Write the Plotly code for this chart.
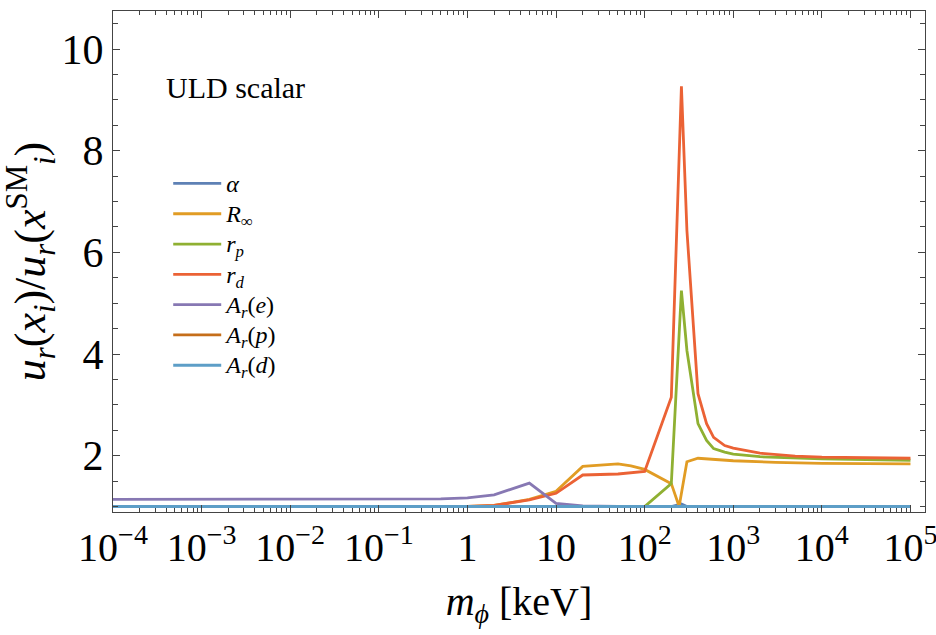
import plotly.graph_objects as go

# ---- data ----
m_alpha = [1e-4, 200, 260, 300, 1e5]
v_alpha = [1.0, 1.0, 1.05, 1.0, 1.0]

m_Rinf = [1e-4, 1, 2, 5, 10, 20, 50, 70, 100, 200, 245, 300, 400, 1e3, 3e3, 1e4, 1e5]
v_Rinf = [1.0, 1.0, 1.02, 1.14, 1.30, 1.79, 1.84, 1.80, 1.73, 1.45, 1.0, 1.88, 1.95, 1.90, 1.87, 1.85, 1.84]

m_rp = [1e-4, 100, 200, 260, 300, 400, 500, 600, 800, 1e3, 2e3, 5e3, 1e4, 1e5]
v_rp = [1.0, 1.0, 1.45, 5.25, 4.07, 2.63, 2.30, 2.14, 2.07, 2.03, 1.98, 1.95, 1.94, 1.91]

m_rd = [1e-4, 1, 2, 5, 10, 20, 50, 100, 200, 260, 300, 400, 500, 600, 800, 1e3, 2e3, 5e3, 1e4, 1e5]
v_rd = [1.0, 1.0, 1.02, 1.13, 1.26, 1.62, 1.64, 1.69, 3.15, 9.27, 6.43, 3.22, 2.63, 2.36, 2.20, 2.15, 2.05, 1.99, 1.97, 1.95]

m_Ae = [1e-4, 0.1, 0.5, 1, 2, 5, 10, 20, 50, 1e5]
v_Ae = [1.14, 1.14, 1.15, 1.17, 1.23, 1.46, 1.06, 1.01, 1.0, 1.0]

m_Ap = [1e-4, 1e5]
v_Ap = [1.0, 1.0]

m_Ad = [1e-4, 1e5]
v_Ad = [1.0, 1.0]

series_names = ["<i>α</i>", "<i>R</i><sub>∞</sub>", "<i>r<sub>p</sub></i>", "<i>r<sub>d</sub></i>",
                "<i>A<sub>r</sub></i>(<i>e</i>)", "<i>A<sub>r</sub></i>(<i>p</i>)", "<i>A<sub>r</sub></i>(<i>d</i>)"]
series_colors = ["#5E81B5", "#E19C24", "#8FB032", "#EB6235", "#8778B3", "#C56E1A", "#5D9EC7"]
series_x = [m_alpha, m_Rinf, m_rp, m_rd, m_Ae, m_Ap, m_Ad]
series_y = [v_alpha, v_Rinf, v_rp, v_rd, v_Ae, v_Ap, v_Ad]

x_tickvals = [1e-4, 1e-3, 1e-2, 1e-1, 1, 10, 1e2, 1e3, 1e4, 1e5]
x_ticktext = ["10<sup>−4</sup>", "10<sup>−3</sup>", "10<sup>−2</sup>", "10<sup>−1</sup>", "1", "10",
              "10<sup>2</sup>", "10<sup>3</sup>", "10<sup>4</sup>", "10<sup>5</sup>"]
y_tickvals = [2, 4, 6, 8, 10]
y_ticktext = ["2", "4", "6", "8", "10"]

FONT = "Liberation Serif"

fig = go.Figure()
for i, (name, col, xs, ys) in enumerate(zip(series_names, series_colors, series_x, series_y)):
    fig.add_trace(go.Scatter(x=xs, y=ys, mode="lines",
                             name=f'<span style="font-size:24px">{name}</span>',
                             legendgroup=f"g{i}",
                             line=dict(color=col, width=2.8)))

axis_common = dict(showline=True, linecolor="#444", linewidth=1, mirror="ticks",
                   ticks="inside", tickcolor="#444", showgrid=False, zeroline=False,
                   automargin=False)

fig.update_layout(
    width=936, height=635,
    margin=dict(l=113, r=11, t=11, b=123),
    paper_bgcolor="white", plot_bgcolor="white",
    font=dict(family=FONT, color="black"),
    xaxis=dict(type="log", range=[-4, 5.164], tickvals=x_tickvals, ticktext=x_ticktext,
               ticklen=7, tickfont=dict(size=40, family=FONT), ticklabeloverflow="allow",
               minor=dict(ticks="inside", ticklen=4, tickcolor="#444", dtick="D1", showgrid=False),
               title=dict(text="<i>m<sub>ϕ</sub></i> [keV]", font=dict(size=40, family=FONT), standoff=17),
               **axis_common),
    yaxis=dict(range=[0.892, 10.75], tickvals=y_tickvals, ticktext=y_ticktext,
               ticklen=7, tickfont=dict(size=42, family=FONT),
               minor=dict(ticks="inside", ticklen=5, tickcolor="#444", dtick=0.5, tick0=0, showgrid=False),
               title=dict(text="<i>u<sub>r</sub></i>(<i>x<sub>i</sub></i>)/<i>u<sub>r</sub></i>(<i>x</i><sup>SM</sup><sub><i>i</i></sub>)",
                          font=dict(size=44, family=FONT), standoff=8),
               **axis_common),
    showlegend=True,
    legend=dict(x=0.068, y=0.696, xanchor="left", yanchor="top",
                bgcolor="rgba(0,0,0,0)", font=dict(size=21, family=FONT),
                itemwidth=48, tracegroupgap=0, traceorder="normal"),
    annotations=[dict(text="ULD scalar", xref="paper", yref="paper", x=0.063, y=0.847,
                      xanchor="left", yanchor="middle", showarrow=False,
                      font=dict(size=30, family=FONT, color="black"))],
)

fig.write_html("out.html")
